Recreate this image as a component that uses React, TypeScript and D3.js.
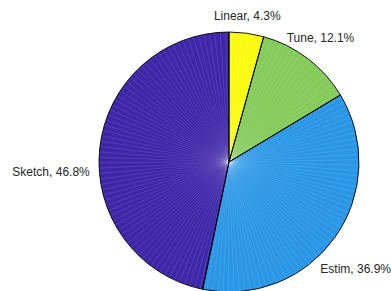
import React from "react"
import * as d3 from "d3"

const labels = ["Linear", "Tune", "Estim", "Sketch"]
const percents = [4.3, 12.1, 36.9, 46.8]
const colors = ["#f9fb0e", "#84cb5a", "#2a96e6", "#3e26a8"]

// label nudges from the 1.1r anchor point (px) and text anchoring
const labelNudge: Record<string, { dx: number; dy: number; anchor: string }> = {
  Linear: { dx: -1, dy: 0, anchor: "middle" },
  Tune: { dx: 5, dy: -6, anchor: "middle" },
  Estim: { dx: 10, dy: 28, anchor: "middle" },
  Sketch: { dx: 3, dy: 29, anchor: "end" },
}

const width = 391
const height = 291
const cx = 229
const cy = 162
const radius = 130

type Slice = { label: string; value: number; color: string }

const App = () => {
  const data: Slice[] = labels.map((l, i) => ({ label: l, value: percents[i], color: colors[i] }))
  const pie = d3.pie<Slice>().sort(null).value((d) => d.value)
  const arcs = pie(data)
  const arc = d3.arc<d3.PieArcDatum<Slice>>().innerRadius(0).outerRadius(radius)

  return (
    <svg
      width={width}
      height={height}
      style={{ position: "absolute", left: 0, top: 0, background: "#fff" }}
      fontFamily="'Liberation Sans', Arial, sans-serif"
    >
      <g transform={`translate(${cx},${cy})`}>
        {arcs.map((a, i) => {
          // faint radial streaks like the patch triangulation in the source
          const step = (2 * Math.PI) / 150
          const spokes = d3.range(a.startAngle + step / 2, a.endAngle, step)
          return (
            <g key={i}>
              <path d={arc(a) || ""} fill={a.data.color} stroke="none" />
              {spokes.map((t, j) => (
                <line
                  key={j}
                  x1={0}
                  y1={0}
                  x2={radius * Math.sin(t)}
                  y2={-radius * Math.cos(t)}
                  stroke="#fff"
                  strokeOpacity={0.22}
                  strokeWidth={0.5}
                />
              ))}
            </g>
          )
        })}
        {arcs.map((a, i) => (
          <path key={"o" + i} d={arc(a) || ""} fill="none" stroke="#000" strokeWidth={0.9} />
        ))}
        {arcs.map((a, i) => {
          const mid = (a.startAngle + a.endAngle) / 2
          const r = radius * 1.1
          const n = labelNudge[a.data.label]
          return (
            <text
              key={"t" + i}
              x={r * Math.sin(mid) + n.dx}
              y={-r * Math.cos(mid) + n.dy}
              textAnchor={n.anchor}
              fontSize={12}
              fill="#262626"
            >
              {`${a.data.label}, ${a.data.value.toFixed(1)}%`}
            </text>
          )
        })}
      </g>
    </svg>
  )
}

export default App
